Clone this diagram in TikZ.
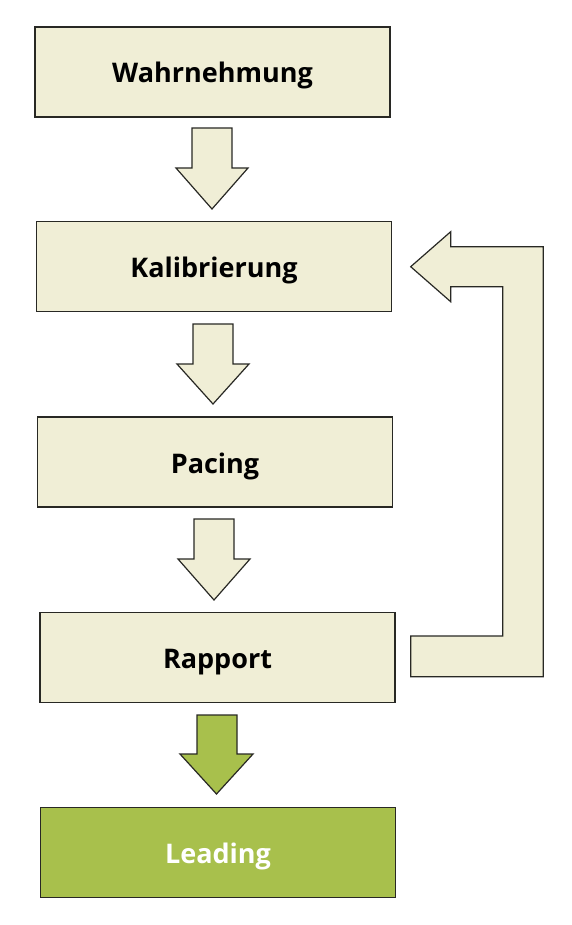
\documentclass[tikz,border=0pt]{standalone}
\usepackage{fontspec}
\setmainfont{Open Sans}
\definecolor{beige}{RGB}{240,238,214}
\definecolor{leafgreen}{RGB}{168,192,76}
\definecolor{edge}{RGB}{40,40,36}
\begin{document}
\begin{tikzpicture}[x=1pt,y=-1pt,
  box/.style={draw=edge,line width=1.4pt,fill=beige,minimum width=355pt,minimum height=90pt,inner sep=0pt,text height=22pt,text depth=0pt,font=\fontsize{27}{30}\selectfont\bfseries,text=black},
  greenbox/.style={box,fill=leafgreen,text=white},
  barrow/.style={draw=edge,line width=1.2pt,fill=beige,line join=miter},
  garrow/.style={barrow,fill=leafgreen}]
\useasboundingbox (0,0) rectangle (571,925);
\node[box] (w) at (212.5,72) {Wahrnehmung};
\node[box] (k) at (214,266.5) {Kalibrierung};
\node[box] (p) at (215,462) {Pacing};
\node[box] (r) at (217.5,657.5) {Rapport};
\node[greenbox] (l) at (218,852.5) {Leading};
% block arrows between boxes
\draw[barrow] (192,128) -- (232,128) -- (232,168) -- (248,168) -- (212,209) -- (176,168) -- (192,168) -- cycle;
\draw[barrow] (193,324) -- (233,324) -- (233,364) -- (249,364) -- (213,404) -- (177,364) -- (193,364) -- cycle;
\draw[barrow] (194,519) -- (234,519) -- (234,559) -- (250,559) -- (214,600) -- (178,559) -- (194,559) -- cycle;
\draw[garrow] (197,715) -- (237,715) -- (237,754) -- (253,754) -- (216.5,794) -- (180,754) -- (197,754) -- cycle;
% feedback arrow
\draw[barrow] (410.7,266.7) -- (450.7,231.7) -- (450.7,246.7) -- (543.3,246.7) -- (543.3,676.7) -- (410.7,676.7) -- (410.7,636) -- (502.7,636) -- (502.7,286.7) -- (450.7,286.7) -- (450.7,301.7) -- cycle;
\end{tikzpicture}
\end{document}
